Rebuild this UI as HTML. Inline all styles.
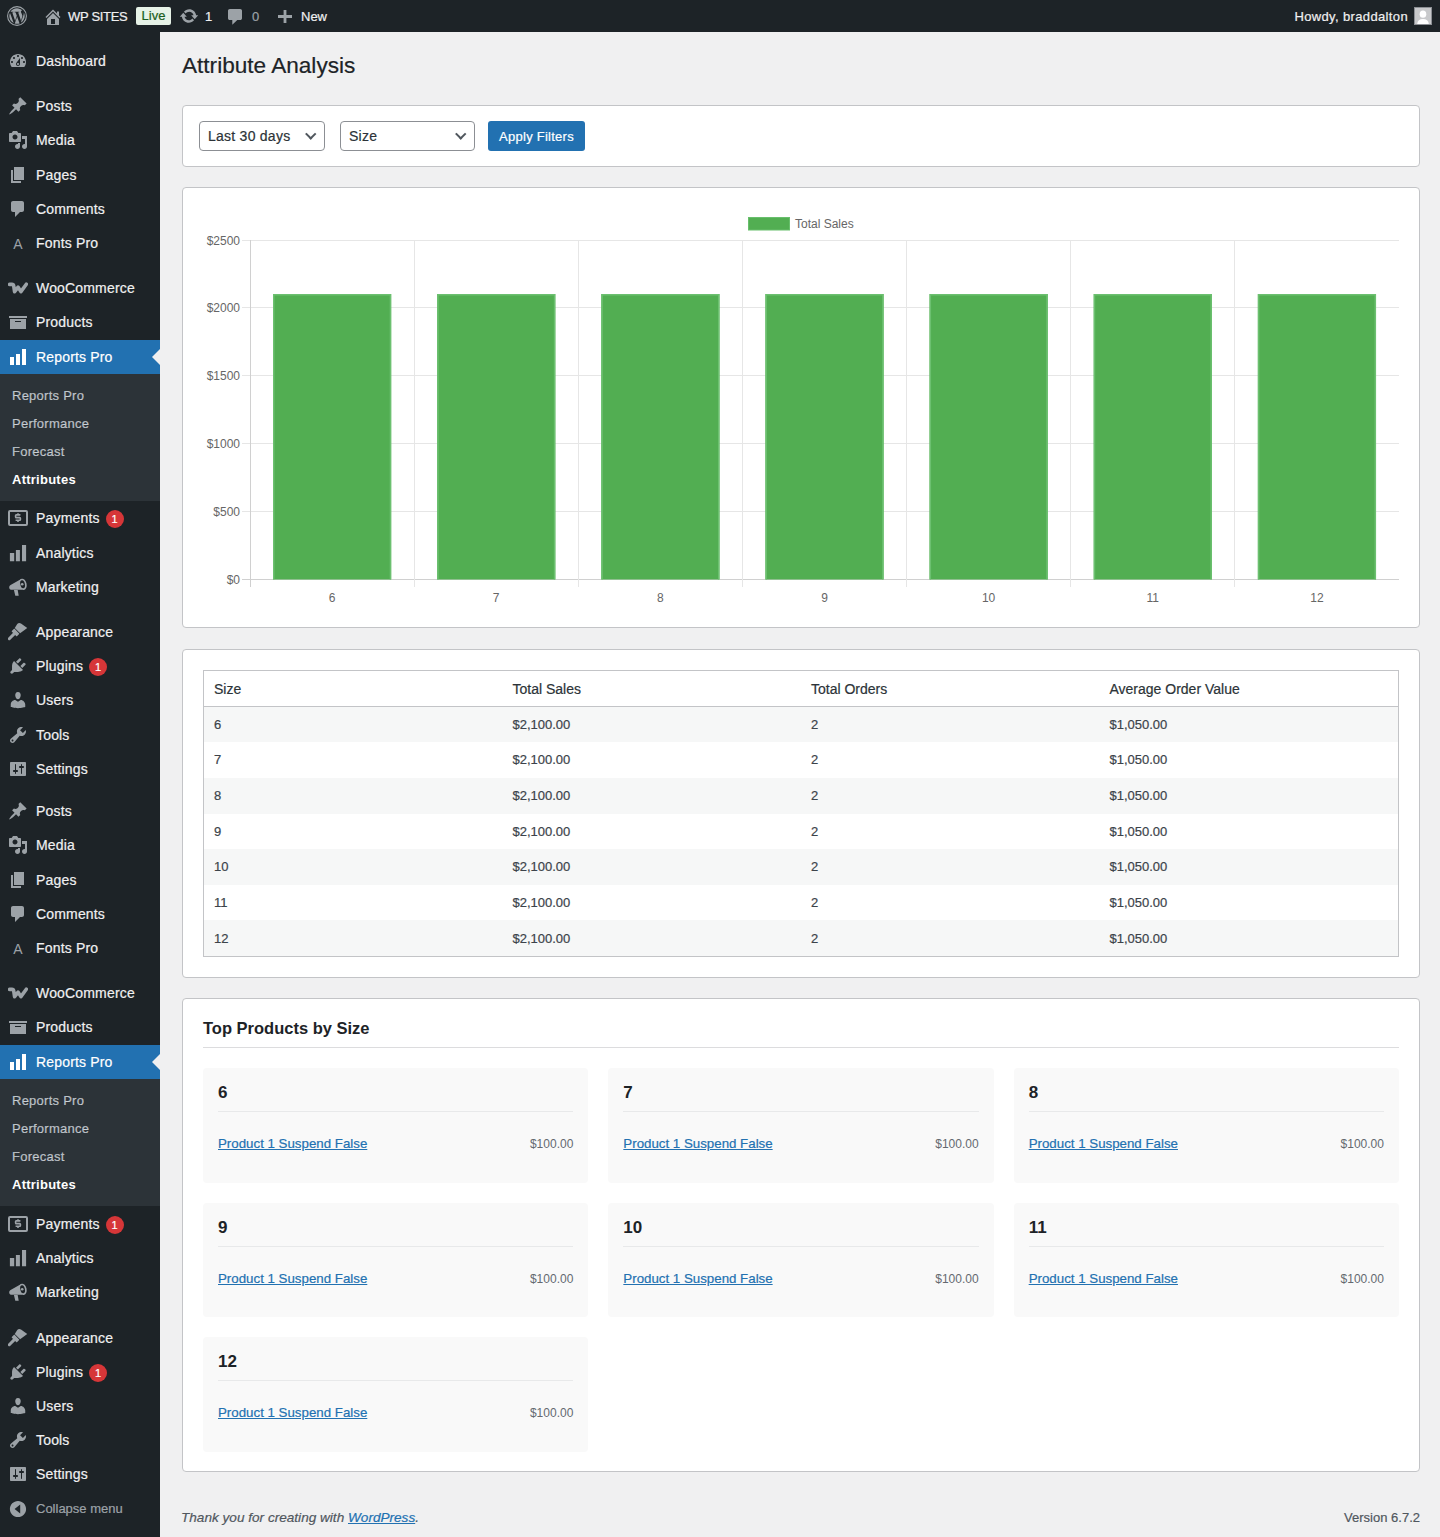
<!DOCTYPE html>
<html><head><meta charset="utf-8"><title>Attribute Analysis</title>
<style>
*{box-sizing:border-box;margin:0;padding:0}
html,body{width:1440px;height:1537px;overflow:hidden}
body{-webkit-text-stroke:.2px currentColor;background:#f0f0f1;font-family:"Liberation Sans",sans-serif;font-size:13px;line-height:1.4;color:#3c434a;position:relative}
ul{list-style:none}
/* admin bar */
#wpadminbar{position:absolute;left:0;top:0;width:1440px;height:32px;background:#1d2327;color:#f0f0f1;font-size:13px;line-height:32px}
#wpadminbar .ab{position:absolute;top:1px;height:32px;white-space:nowrap}
/* admin menu */
#adminmenuback{position:absolute;left:0;top:32px;width:160px;height:1505px;background:#1d2327}
#adminmenu{position:absolute;left:0;top:44px;width:160px}
#adminmenu li.mi{position:relative;height:34.2px;color:#f0f0f1;font-size:14px;line-height:18px}
#adminmenu li.mi .icw{position:absolute;left:8px;top:7px;width:20px;height:20px}
#adminmenu li.mi .ic{display:block}
#adminmenu li.mi .lbl{position:absolute;left:36px;top:8px;white-space:nowrap;letter-spacing:.17px}
#adminmenu li.sep{height:11px}
#adminmenu li.sep2{height:8.3px}
#adminmenu li.cur{background:#2271b1;color:#fff}
#adminmenu li.cur .arrow{position:absolute;right:0;top:50%;margin-top:-8px;width:0;height:0;border:8px solid transparent;border-right-color:#f0f0f1}
#adminmenu li.sub{background:#2c3338;padding:7px 0 8px}
#adminmenu li.sub li{height:28.2px;line-height:18.2px;padding:6px 12px 4px;font-size:13px;color:rgba(240,246,252,.7);letter-spacing:.25px}
#adminmenu li.sub li.on{color:#fff;font-weight:bold}
.badge{display:inline-block;vertical-align:top;margin:1px 0 -1px 6px;min-width:18px;height:18px;border-radius:9px;background:#d63638;color:#fff;font-size:11px;line-height:18px;text-align:center;padding:0 5px}
#adminmenu li.collapse{position:relative;height:34.2px;color:#9ca2a7;font-size:13px;line-height:34px}
#adminmenu li.collapse .icw{position:absolute;left:8px;top:7px}
#adminmenu li.collapse .ic{display:block}
#adminmenu li.collapse .lbl{position:absolute;left:36px;top:0}
/* content */
#content{position:absolute;left:182px;top:32px;width:1238px}
h1.title{font-size:22.6px;font-weight:400;line-height:29.9px;padding:9px 0 4px;margin-top:10px;color:#1d2327}
.box{background:#fff;border:1px solid #c3c4c7;border-radius:4px;position:absolute;left:0;width:1238px}
select.sel{position:absolute;height:30px;border:1px solid #8c8f94;border-radius:3px;background:#fff;font-family:"Liberation Sans",sans-serif;font-size:14px;color:#2c3338;padding:0 8px;line-height:28px}
.btn{position:absolute;height:30px;background:#2271b1;border-radius:3px;color:#fff;font-size:13px;line-height:30px;text-align:center}
/* footer */
#footer{position:absolute;left:180px;top:1504px;width:1240px;height:28px;font-size:13px;color:#50575e}
.sel{position:absolute;height:30px;border:1px solid #8c8f94;border-radius:4px;background:#fff;font-size:14px;color:#2c3338;padding:0 8px;line-height:28px;white-space:nowrap;letter-spacing:.25px}
.sel .chev{position:absolute;right:10px;top:8px;width:7.5px;height:7.5px;border-right:2px solid #50575e;border-bottom:2px solid #50575e;transform:rotate(45deg)}
.btn{position:absolute;height:30px;background:#2271b1;border-radius:3px;color:#fff;font-size:13px;line-height:31px;text-align:center;letter-spacing:.25px}
table.widefat{position:absolute;left:20px;top:20px;width:1196px;border:1px solid #c3c4c7;border-spacing:0;table-layout:fixed}
table.widefat th{text-align:left;font-weight:400;font-size:14px;line-height:19.6px;padding:9px 10px 6px;border-bottom:1px solid #c3c4c7;color:#2c3338;height:35.6px}
table.widefat td{font-size:13px;line-height:19.5px;padding:8px 10px 8px;color:#3c434a;height:35.65px}
table.widefat tr.alt td{background:#f6f7f7}
h2.tp{position:absolute;left:20px;top:20px;width:1196px;font-size:16.5px;font-weight:700;color:#1d2327;line-height:16px;padding-top:1px;border-bottom:1px solid #dcdcde;height:29px}
.card{position:absolute;width:385.33px;height:114.5px;background:#f9f9f9;border-radius:4px;padding:0 15px}
.card h3{position:absolute;left:15px;right:15px;top:0;height:44px;border-bottom:1px solid #e8e9ea;font-size:17px;font-weight:700;color:#1d2327;line-height:20px;padding-top:15px}
.card .prow{position:absolute;left:15px;right:15px;top:66px;height:20px;line-height:20px}
.card a{color:#2271b1;text-decoration:underline;font-size:13.3px}
.card .price{position:absolute;right:0;top:0;font-size:12px;color:#646970}
#footer .thanks{position:absolute;left:1px;top:0;font-style:italic;line-height:28px;font-size:13.6px}
#footer a{color:#2271b1;text-decoration:underline}
#footer .ver{position:absolute;right:0;top:0;line-height:28px}
#wpadminbar .live{position:absolute;left:136px;top:7px;width:35px;height:18px;background:#e6f2e7;color:#1b5e20;border-radius:2px;font-size:13px;line-height:18px;text-align:center}
#wpadminbar .avatar{position:absolute;left:1414px;top:7px;width:18px;height:18px;border:1px solid #8c8f94;background:#c3c4c7}
#wpadminbar .avatar svg{display:block}
h2.tp,.card h3,.card .price,#adminmenu li.sub li.on{-webkit-text-stroke:0}

</style></head>
<body>
<div id="adminmenuback"></div>
<ul id="adminmenu"><li class="mi"><span class="icw"><svg class="ic" viewBox="0 0 20 20" width="20" height="20" fill="#9ca2a7"><path fill-rule="evenodd" d="M3.76 16h12.48c1.1-1.37 1.76-3.11 1.76-5 0-4.42-3.58-8-8-8s-8 3.58-8 8c0 1.89.66 3.63 1.76 5zM10 4c.55 0 1 .45 1 1s-.45 1-1 1-1-.45-1-1 .45-1 1-1zM6 6c.55 0 1 .45 1 1s-.45 1-1 1-1-.45-1-1 .45-1 1-1zm8 0c.55 0 1 .45 1 1s-.45 1-1 1-1-.45-1-1 .45-1 1-1zm-5.37 5.55L12 7v6c0 1.1-.9 2-2 2s-2-.9-2-2c0-.57.24-1.08.63-1.45zM4 10c.55 0 1 .45 1 1s-.45 1-1 1-1-.45-1-1 .45-1 1-1zm12 0c.55 0 1 .45 1 1s-.45 1-1 1-1-.45-1-1 .45-1 1-1zm-5 3c0-.55-.45-1-1-1s-1 .45-1 1 .45 1 1 1 1-.45 1-1z"/></svg></span><span class="lbl">Dashboard</span></li><li class="sep"></li><li class="mi"><span class="icw"><svg class="ic" viewBox="0 0 20 20" width="20" height="20" fill="#9ca2a7"><path d="M10.44 3.02l1.82-1.820 6.36 6.35-1.83 1.82c-1.05-.68-2.48-.57-3.41.36l-.75.75c-.92.93-1.040 2.35-.35 3.41l-1.83 1.82-2.41-2.41-2.8 2.79c-.42.42-3.38 2.71-3.8 2.29s1.86-3.39 2.28-3.81l2.79-2.79L4.1 9.36l1.83-1.82c1.05.69 2.48.57 3.4-.36l.75-.75c.93-.92 1.05-2.35.36-3.41z"/></svg></span><span class="lbl">Posts</span></li><li class="mi"><span class="icw"><svg class="ic" viewBox="0 0 20 20" width="20" height="20" fill="#9ca2a7"><path fill-rule="evenodd" d="M13 11V4c0-.55-.45-1-1-1h-1.67L9 1H5L3.67 3H2c-.55 0-1 .45-1 1v7c0 .55.45 1 1 1h10c.55 0 1-.45 1-1zM7 4.5c1.38 0 2.5 1.12 2.5 2.5S8.38 9.5 7 9.5 4.5 8.38 4.5 7 5.62 4.5 7 4.5zM14 6h5v10.5c0 1.380-1.12 2.5-2.5 2.5S14 17.88 14 16.5s1.12-2.5 2.5-2.5c.17 0 .34.02.5.05V9h-3V6zm-4 8.05V13h2v3.5c0 1.38-1.12 2.5-2.5 2.5S7 17.88 7 16.5 8.12 14 9.5 14c.17 0 .34.02.5.05z"/></svg></span><span class="lbl">Media</span></li><li class="mi"><span class="icw"><svg class="ic" viewBox="0 0 20 20" width="20" height="20" fill="#9ca2a7"><path d="M6 15V2h10v13H6zm-1 1h8v2H3V5h2v11z"/></svg></span><span class="lbl">Pages</span></li><li class="mi"><span class="icw"><svg class="ic" viewBox="0 0 20 20" width="20" height="20" fill="#9ca2a7"><path d="M5 2h9c1.1 0 2 .9 2 2v7c0 1.1-.9 2-2 2h-2l-5 5v-5H5c-1.1 0-2-.9-2-2V4c0-1.1.9-2 2-2z"/></svg></span><span class="lbl">Comments</span></li><li class="mi"><span class="icw"><svg class="ic" viewBox="0 0 20 20" width="20" height="20" fill="#9ca2a7"><text x="10" y="16" text-anchor="middle" font-family="Liberation Sans" font-size="14">A</text></svg></span><span class="lbl">Fonts Pro</span></li><li class="sep"></li><li class="mi"><span class="icw"><svg class="ic" viewBox="0 0 20 20" width="20" height="20" fill="#9ca2a7"><path d="M1.6 6.4H4c.9 0 1.500.5 1.700 1.400L6.600 13.600 10.100 9.100 12.900 13.600 18.300 6.200" fill="none" stroke="#9ca2a7" stroke-width="3.6" stroke-linecap="round" stroke-linejoin="round"/></svg></span><span class="lbl">WooCommerce</span></li><li class="mi"><span class="icw"><svg class="ic" viewBox="0 0 20 20" width="20" height="20" fill="#9ca2a7"><path fill-rule="evenodd" d="M19 4v2H1V4h18zM2 7h16v10H2V7zm11 3V9H7v1h6z"/></svg></span><span class="lbl">Products</span></li><li class="mi cur"><span class="icw"><svg class="ic" viewBox="0 0 20 20" width="20" height="20" fill="#fff"><path d="M18 18V2h-4v16h4zm-6 0V7H8v11h4zm-6 0v-8H2v8h4z"/></svg></span><span class="lbl">Reports Pro</span><span class="arrow"></span></li><li class="sub"><ul><li>Reports Pro</li><li>Performance</li><li>Forecast</li><li class="on">Attributes</li></ul></li><li class="mi"><span class="icw"><svg class="ic" viewBox="0 0 20 20" width="20" height="20" fill="#9ca2a7"><rect x="1" y="3" width="18" height="14" rx="1" fill="none" stroke="#9ca2a7" stroke-width="2"/><path d="M12.400 6.900H8.300Q7.600 6.900 7.600 7.600V8.900Q7.600 9.600 8.300 9.600H11.700Q12.400 9.600 12.400 10.300V11.600Q12.400 12.300 11.700 12.300H7.600M10 5.200V6.900M10 12.300V14" fill="none" stroke="#9ca2a7" stroke-width="1.6"/></svg></span><span class="lbl">Payments<span class="badge">1</span></span></li><li class="mi"><span class="icw"><svg class="ic" viewBox="0 0 20 20" width="20" height="20" fill="#9ca2a7"><path d="M1.9 10h4.3v8.2H1.9zM7.9 7.1h4v11.1h-4zM14 2h4.1v16.2H14z"/></svg></span><span class="lbl">Analytics</span></li><li class="mi"><span class="icw"><svg class="ic" viewBox="0 0 20 20" width="20" height="20" fill="#9ca2a7"><path d="M2.600 8.100L13.200 1.900 14.600 12.700H3C1.900 12.600 1.200 11.800 1.200 10.600 1.200 9.500 1.700 8.600 2.600 8.100zM5.800 12.400L7.300 18.800H10.700L9.600 12.400z"/><ellipse cx="14.800" cy="7.300" rx="3.800" ry="5.700" transform="rotate(-12 14.800 7.300)"/><ellipse cx="14.600" cy="7.300" rx="2.300" ry="4.100" transform="rotate(-12 14.600 7.300)" fill="#1d2327"/><circle cx="14.200" cy="7.300" r="1.300"/></svg></span><span class="lbl">Marketing</span></li><li class="sep"></li><li class="mi"><span class="icw"><svg class="ic" viewBox="0 0 20 20" width="20" height="20" fill="#9ca2a7"><g transform="translate(1.300 16.700) rotate(-45)"><path d="M0 -1.500H7.500V1.500H0A1.500 1.500 0 0 1 0 -1.500z"/><rect x="6.800" y="-3.600" width="3.900" height="7.200" rx=".4"/><path d="M11.500 -3.800L16 -4.800Q18.500 -4.800 19 -2.500L20.200 5.200 11.500 3.800z"/></g></svg></span><span class="lbl">Appearance</span></li><li class="mi"><span class="icw"><svg class="ic" viewBox="0 0 20 20" width="20" height="20" fill="#9ca2a7"><path d="M13.11 4.36L9.87 7.6 8 5.73l3.24-3.24c.35-.34 1.05-.2 1.56.32.52.51.66 1.21.31 1.55zm-8 1.77l.91-1.12 9.01 9.01-1.19.84c-.71.71-2.63 1.16-3.82 1.16H6.14L4.9 17.26c-.59.59-1.54.59-2.12 0-.59-.58-.59-1.53 0-2.12l1.24-1.240v-3.88c0-1.13.4-3.19 1.09-3.89zm7.26 3.97l3.24-3.24c.34-.35 1.04-.21 1.55.31.52.51.66 1.21.31 1.55l-3.24 3.25z"/></svg></span><span class="lbl">Plugins<span class="badge">1</span></span></li><li class="mi"><span class="icw"><svg class="ic" viewBox="0 0 20 20" width="20" height="20" fill="#9ca2a7"><path d="M10 9.25c-2.27 0-2.73-3.44-2.73-3.44C7 4.02 7.82 2 9.97 2c2.16 0 2.98 2.02 2.71 3.81 0 0-.41 3.44-2.68 3.44zm0 2.57L12.72 10c2.39 0 4.52 2.33 4.52 4.53v2.49s-3.65 1.13-7.240 1.130c-3.65 0-7.24-1.13-7.24-1.13v-2.49c0-2.25 1.94-4.48 4.47-4.48z"/></svg></span><span class="lbl">Users</span></li><li class="mi"><span class="icw"><svg class="ic" viewBox="0 0 20 20" width="20" height="20" fill="#9ca2a7"><path fill-rule="evenodd" d="M16.68 9.77c-1.34 1.34-3.3 1.67-4.95.99l-5.41 6.52c-.99.99-2.59.99-3.58 0s-.99-2.59 0-3.57l6.52-5.42c-.68-1.650-.35-3.61.99-4.95 1.28-1.28 3.12-1.62 4.72-1.06l-2.89 2.89 2.82 2.82 2.86-2.87c.53 1.58.18 3.39-1.08 4.650zM3.81 16.21c.4.39 1.04.39 1.43 0 .4-.4.4-1.04 0-1.43-.39-.4-1.03-.4-1.43 0-.39.39-.39 1.03 0 1.43z"/></svg></span><span class="lbl">Tools</span></li><li class="mi"><span class="icw"><svg class="ic" viewBox="0 0 20 20" width="20" height="20" fill="#9ca2a7"><path fill-rule="evenodd" d="M18 16V4c0-.55-.45-1-1-1H3c-.55 0-1 .45-1 1v12c0 .55.45 1 1 1h14c.55 0 1-.45 1-1zM8 11h1c.55 0 1 .45 1 1s-.45 1-1 1H8v1.5c0 .28-.22.5-.5.5s-.5-.22-.5-.5V13H6c-.55 0-1-.45-1-1s.45-1 1-1h1V5.5c0-.28.22-.5.5-.5s.5.22.5.5V11zm5-2h-1c-.55 0-1-.45-1-1s.45-1 1-1h1V5.5c0-.28.22-.5.5-.5s.5.22.5.5V7h1c.55 0 1 .45 1 1s-.45 1-1 1h-1v5.5c0 .28-.22.5-.5.5s-.5-.22-.5-.5V9z"/></svg></span><span class="lbl">Settings</span></li><li class="sep2"></li><li class="mi"><span class="icw"><svg class="ic" viewBox="0 0 20 20" width="20" height="20" fill="#9ca2a7"><path d="M10.44 3.02l1.82-1.820 6.36 6.35-1.83 1.82c-1.05-.68-2.48-.57-3.41.36l-.75.75c-.92.93-1.040 2.35-.35 3.41l-1.83 1.82-2.41-2.41-2.8 2.79c-.42.42-3.38 2.71-3.8 2.29s1.86-3.39 2.28-3.81l2.79-2.79L4.1 9.36l1.83-1.82c1.05.69 2.48.57 3.4-.36l.75-.75c.93-.92 1.05-2.35.36-3.41z"/></svg></span><span class="lbl">Posts</span></li><li class="mi"><span class="icw"><svg class="ic" viewBox="0 0 20 20" width="20" height="20" fill="#9ca2a7"><path fill-rule="evenodd" d="M13 11V4c0-.55-.45-1-1-1h-1.67L9 1H5L3.67 3H2c-.55 0-1 .45-1 1v7c0 .55.45 1 1 1h10c.55 0 1-.45 1-1zM7 4.5c1.38 0 2.5 1.12 2.5 2.5S8.38 9.5 7 9.5 4.5 8.38 4.5 7 5.62 4.5 7 4.5zM14 6h5v10.5c0 1.380-1.12 2.5-2.5 2.5S14 17.88 14 16.5s1.12-2.5 2.5-2.5c.17 0 .34.02.5.05V9h-3V6zm-4 8.05V13h2v3.5c0 1.38-1.12 2.5-2.5 2.5S7 17.88 7 16.5 8.12 14 9.5 14c.17 0 .34.02.5.05z"/></svg></span><span class="lbl">Media</span></li><li class="mi"><span class="icw"><svg class="ic" viewBox="0 0 20 20" width="20" height="20" fill="#9ca2a7"><path d="M6 15V2h10v13H6zm-1 1h8v2H3V5h2v11z"/></svg></span><span class="lbl">Pages</span></li><li class="mi"><span class="icw"><svg class="ic" viewBox="0 0 20 20" width="20" height="20" fill="#9ca2a7"><path d="M5 2h9c1.1 0 2 .9 2 2v7c0 1.1-.9 2-2 2h-2l-5 5v-5H5c-1.1 0-2-.9-2-2V4c0-1.1.9-2 2-2z"/></svg></span><span class="lbl">Comments</span></li><li class="mi"><span class="icw"><svg class="ic" viewBox="0 0 20 20" width="20" height="20" fill="#9ca2a7"><text x="10" y="16" text-anchor="middle" font-family="Liberation Sans" font-size="14">A</text></svg></span><span class="lbl">Fonts Pro</span></li><li class="sep"></li><li class="mi"><span class="icw"><svg class="ic" viewBox="0 0 20 20" width="20" height="20" fill="#9ca2a7"><path d="M1.6 6.4H4c.9 0 1.500.5 1.700 1.400L6.600 13.600 10.100 9.100 12.900 13.600 18.300 6.200" fill="none" stroke="#9ca2a7" stroke-width="3.6" stroke-linecap="round" stroke-linejoin="round"/></svg></span><span class="lbl">WooCommerce</span></li><li class="mi"><span class="icw"><svg class="ic" viewBox="0 0 20 20" width="20" height="20" fill="#9ca2a7"><path fill-rule="evenodd" d="M19 4v2H1V4h18zM2 7h16v10H2V7zm11 3V9H7v1h6z"/></svg></span><span class="lbl">Products</span></li><li class="mi cur"><span class="icw"><svg class="ic" viewBox="0 0 20 20" width="20" height="20" fill="#fff"><path d="M18 18V2h-4v16h4zm-6 0V7H8v11h4zm-6 0v-8H2v8h4z"/></svg></span><span class="lbl">Reports Pro</span><span class="arrow"></span></li><li class="sub" style="margin-bottom:.6px"><ul><li>Reports Pro</li><li>Performance</li><li>Forecast</li><li class="on">Attributes</li></ul></li><li class="mi"><span class="icw"><svg class="ic" viewBox="0 0 20 20" width="20" height="20" fill="#9ca2a7"><rect x="1" y="3" width="18" height="14" rx="1" fill="none" stroke="#9ca2a7" stroke-width="2"/><path d="M12.400 6.900H8.300Q7.600 6.900 7.600 7.600V8.900Q7.600 9.600 8.300 9.600H11.700Q12.400 9.600 12.400 10.300V11.600Q12.400 12.300 11.700 12.300H7.600M10 5.200V6.900M10 12.300V14" fill="none" stroke="#9ca2a7" stroke-width="1.6"/></svg></span><span class="lbl">Payments<span class="badge">1</span></span></li><li class="mi"><span class="icw"><svg class="ic" viewBox="0 0 20 20" width="20" height="20" fill="#9ca2a7"><path d="M1.9 10h4.3v8.2H1.9zM7.9 7.1h4v11.1h-4zM14 2h4.1v16.2H14z"/></svg></span><span class="lbl">Analytics</span></li><li class="mi"><span class="icw"><svg class="ic" viewBox="0 0 20 20" width="20" height="20" fill="#9ca2a7"><path d="M2.600 8.100L13.200 1.900 14.600 12.700H3C1.900 12.600 1.200 11.800 1.200 10.600 1.200 9.500 1.700 8.600 2.600 8.100zM5.800 12.400L7.300 18.800H10.700L9.600 12.400z"/><ellipse cx="14.800" cy="7.300" rx="3.800" ry="5.700" transform="rotate(-12 14.800 7.300)"/><ellipse cx="14.600" cy="7.300" rx="2.300" ry="4.100" transform="rotate(-12 14.600 7.300)" fill="#1d2327"/><circle cx="14.200" cy="7.300" r="1.300"/></svg></span><span class="lbl">Marketing</span></li><li class="sep"></li><li class="mi"><span class="icw"><svg class="ic" viewBox="0 0 20 20" width="20" height="20" fill="#9ca2a7"><g transform="translate(1.300 16.700) rotate(-45)"><path d="M0 -1.500H7.500V1.500H0A1.500 1.500 0 0 1 0 -1.500z"/><rect x="6.800" y="-3.600" width="3.900" height="7.200" rx=".4"/><path d="M11.500 -3.800L16 -4.800Q18.500 -4.800 19 -2.500L20.200 5.200 11.500 3.800z"/></g></svg></span><span class="lbl">Appearance</span></li><li class="mi"><span class="icw"><svg class="ic" viewBox="0 0 20 20" width="20" height="20" fill="#9ca2a7"><path d="M13.11 4.36L9.87 7.6 8 5.73l3.24-3.24c.35-.34 1.05-.2 1.56.32.52.51.66 1.21.31 1.55zm-8 1.77l.91-1.12 9.01 9.01-1.19.84c-.71.71-2.63 1.16-3.82 1.16H6.14L4.9 17.26c-.59.59-1.54.59-2.12 0-.59-.58-.59-1.53 0-2.12l1.24-1.240v-3.88c0-1.13.4-3.19 1.09-3.89zm7.26 3.97l3.24-3.24c.34-.35 1.04-.21 1.55.31.52.51.66 1.21.31 1.55l-3.24 3.25z"/></svg></span><span class="lbl">Plugins<span class="badge">1</span></span></li><li class="mi"><span class="icw"><svg class="ic" viewBox="0 0 20 20" width="20" height="20" fill="#9ca2a7"><path d="M10 9.25c-2.27 0-2.73-3.44-2.73-3.44C7 4.02 7.82 2 9.97 2c2.16 0 2.98 2.02 2.71 3.81 0 0-.41 3.44-2.68 3.44zm0 2.57L12.72 10c2.39 0 4.52 2.33 4.52 4.53v2.49s-3.65 1.13-7.240 1.130c-3.65 0-7.24-1.13-7.24-1.13v-2.49c0-2.25 1.94-4.48 4.47-4.48z"/></svg></span><span class="lbl">Users</span></li><li class="mi"><span class="icw"><svg class="ic" viewBox="0 0 20 20" width="20" height="20" fill="#9ca2a7"><path fill-rule="evenodd" d="M16.68 9.77c-1.34 1.34-3.3 1.67-4.95.99l-5.41 6.52c-.99.99-2.59.99-3.58 0s-.99-2.59 0-3.57l6.52-5.42c-.68-1.650-.35-3.61.99-4.95 1.28-1.28 3.12-1.62 4.72-1.06l-2.89 2.89 2.82 2.82 2.86-2.87c.53 1.58.18 3.39-1.08 4.650zM3.81 16.21c.4.39 1.04.39 1.43 0 .4-.4.4-1.04 0-1.43-.39-.4-1.03-.4-1.43 0-.39.39-.39 1.03 0 1.43z"/></svg></span><span class="lbl">Tools</span></li><li class="mi"><span class="icw"><svg class="ic" viewBox="0 0 20 20" width="20" height="20" fill="#9ca2a7"><path fill-rule="evenodd" d="M18 16V4c0-.55-.45-1-1-1H3c-.55 0-1 .45-1 1v12c0 .55.45 1 1 1h14c.55 0 1-.45 1-1zM8 11h1c.55 0 1 .45 1 1s-.45 1-1 1H8v1.5c0 .28-.22.5-.5.5s-.5-.22-.5-.5V13H6c-.55 0-1-.45-1-1s.45-1 1-1h1V5.5c0-.28.22-.5.5-.5s.5.22.5.5V11zm5-2h-1c-.55 0-1-.45-1-1s.45-1 1-1h1V5.5c0-.28.22-.5.5-.5s.5.22.5.5V7h1c.55 0 1 .45 1 1s-.45 1-1 1h-1v5.5c0 .28-.22.5-.5.5s-.5-.22-.5-.5V9z"/></svg></span><span class="lbl">Settings</span></li><li class="collapse"><span class="icw"><svg class="ic" viewBox="0 0 20 20" width="20" height="20" fill="#9ca2a7"><path fill-rule="evenodd" d="M10 1.9c4.5 0 8.1 3.6 8.1 8.1s-3.6 8.1-8.1 8.1S1.9 14.5 1.9 10 5.5 1.9 10 1.9zM12.2 5.6L6.6 10l5.6 4.4z"/></svg></span><span class="lbl">Collapse menu</span></li></ul>

<div id="wpadminbar">
  <svg class="ab" style="left:7px;top:6px;height:20px" width="20" height="20" viewBox="0 0 20 20"><circle cx="10" cy="10" r="9.4" fill="none" stroke="#9ca2a7" stroke-width="1.1"/><path fill="#9ca2a7" d="M2.3 10c0 3 1.8 5.7 4.4 7L3 6.9C2.5 7.8 2.3 8.9 2.3 10zm12.900-.4c0-.9-.4-1.600-.6-2.100-.4-.6-.7-1.100-.7-1.700 0-.7.5-1.300 1.200-1.300h.1C13.800 3.300 12.000 2.300 10 2.300c-2.700 0-5.100 1.400-6.500 3.500h.5c.8 0 2.100-.1 2.100-.1.4 0 .5.6.1.6 0 0-.4.1-.9.1l2.800 8.400 1.700-5.100-1.200-3.300c-.4 0-.8-.1-.8-.1-.4 0-.4-.6 0-.6 0 0 1.300.1 2.100.1s2.100-.1 2.100-.1c.4 0 .5.6.1.6 0 0-.4.1-.9.1l2.800 8.300.8-2.600c.3-1.100.6-1.900.6-2.600zm-5.100 1.100l-2.300 6.800c.7.2 1.400.3 2.200.3.9 0 1.800-.2 2.600-.4l-.1-.1-2.400-6.600zm6.600-4.400c0 .2.1.5.1.8 0 .8-.1 1.600-.6 2.800l-2.300 6.700c2.300-1.300 3.800-3.800 3.800-6.600 0-1.300-.3-2.600-1-3.700z"/></svg>
  <svg class="ab" style="left:42.5px;top:6.5px;height:20px" width="20" height="20" viewBox="0 0 20 20"><path fill="#9ca2a7" fill-rule="evenodd" d="M16 8.5l1.53 1.53-1.06 1.06L10 4.620l-6.470 6.470-1.060-1.060L10 2.500l4 4v-2h2v4zM10 6.040l6 5.990V18H4v-5.970zM12 17v-5H8v5h4z"/></svg>
  <span class="ab" style="left:68px;color:#f0f0f1;letter-spacing:-.3px">WP SITES</span>
  <span class="live">Live</span>
  <svg class="ab" style="left:178.5px;top:5.8px;height:20px" width="20" height="20" viewBox="0 0 20 20"><path fill="#9ca2a7" d="M10.2 3.28c3.53 0 6.43 2.61 6.92 6h2.08l-3.5 4-3.5-4h2.32c-.45-1.97-2.21-3.45-4.32-3.45-1.45 0-2.73.71-3.540 1.780L4.950 5.660C6.230 4.200 8.110 3.280 10.200 3.280zm-.4 13.44c-3.52 0-6.43-2.61-6.92-6H.8l3.5-4c1.17 1.33 2.33 2.67 3.5 4H5.480c.45 1.970 2.210 3.450 4.320 3.450 1.450 0 2.730-.710 3.540-1.780l1.710 1.950c-1.280 1.460-3.150 2.380-5.250 2.380z"/></svg>
  <span class="ab" style="left:205px;color:#f0f0f1">1</span>
  <svg class="ab" style="left:228px;top:9px;height:16px" width="14" height="16" viewBox="0 0 14 16"><path fill="#9ca2a7" d="M1.8 0h10.400c1 0 1.800.8 1.800 1.800v7.400c0 1-.8 1.800-1.800 1.800H9.300L4.300 15.800V11H1.800C.8 11 0 10.200 0 9.200V1.800C0 .8.8 0 1.800 0z"/></svg>
  <span class="ab" style="left:252px;color:#9ca2a7">0</span>
  <svg class="ab" style="left:278px;top:10px;height:13px" width="14" height="13" viewBox="0 0 14 13"><path fill="#9ca2a7" d="M5.600 0h2.800v5.100H14v2.800H8.400V13H5.600V7.900H0V5.100h5.600z"/></svg>
  <span class="ab" style="left:301px;color:#f0f0f1">New</span>
  <span class="ab" style="right:32px;color:#f0f0f1;letter-spacing:.36px">Howdy, braddalton</span>
  <span class="avatar"><svg width="16" height="16" viewBox="0 0 16 16"><rect width="16" height="16" fill="#c8c9cb"/><ellipse cx="8" cy="6.2" rx="3.3" ry="3.6" fill="#fff"/><path d="M2.200 16c.3-3.200 2.300-5 5.800-5s5.500 1.800 5.800 5z" fill="#fff"/></svg></span>
</div>
<div id="content">
<h1 class="title">Attribute Analysis</h1>
<div class="box" style="top:73px;height:62px">
  <div class="sel" style="left:16px;top:15px;width:126px">Last 30 days<span class="chev"></span></div>
  <div class="sel" style="left:157px;top:15px;width:135px">Size<span class="chev"></span></div>
  <div class="btn" style="left:305px;top:15px;width:97px">Apply Filters</div>
</div>
<div class="box" style="top:155px;height:441px"></div>
<div class="box" style="top:617px;height:329px"><table class="widefat"><thead><tr><th>Size</th><th>Total Sales</th><th>Total Orders</th><th>Average Order Value</th></tr></thead><tbody><tr class="alt"><td>6</td><td>$2,100.00</td><td>2</td><td>$1,050.00</td></tr><tr><td>7</td><td>$2,100.00</td><td>2</td><td>$1,050.00</td></tr><tr class="alt"><td>8</td><td>$2,100.00</td><td>2</td><td>$1,050.00</td></tr><tr><td>9</td><td>$2,100.00</td><td>2</td><td>$1,050.00</td></tr><tr class="alt"><td>10</td><td>$2,100.00</td><td>2</td><td>$1,050.00</td></tr><tr><td>11</td><td>$2,100.00</td><td>2</td><td>$1,050.00</td></tr><tr class="alt"><td>12</td><td>$2,100.00</td><td>2</td><td>$1,050.00</td></tr></tbody></table></div>
<div class="box" style="top:966px;height:474px">
  <h2 class="tp">Top Products by Size</h2>
  <div class="card" style="left:20.0px;top:69.0px"><h3>6</h3><div class="prow"><a>Product 1 Suspend False</a><span class="price">$100.00</span></div></div><div class="card" style="left:425.333px;top:69.0px"><h3>7</h3><div class="prow"><a>Product 1 Suspend False</a><span class="price">$100.00</span></div></div><div class="card" style="left:830.666px;top:69.0px"><h3>8</h3><div class="prow"><a>Product 1 Suspend False</a><span class="price">$100.00</span></div></div><div class="card" style="left:20.0px;top:203.5px"><h3>9</h3><div class="prow"><a>Product 1 Suspend False</a><span class="price">$100.00</span></div></div><div class="card" style="left:425.333px;top:203.5px"><h3>10</h3><div class="prow"><a>Product 1 Suspend False</a><span class="price">$100.00</span></div></div><div class="card" style="left:830.666px;top:203.5px"><h3>11</h3><div class="prow"><a>Product 1 Suspend False</a><span class="price">$100.00</span></div></div><div class="card" style="left:20.0px;top:338.0px"><h3>12</h3><div class="prow"><a>Product 1 Suspend False</a><span class="price">$100.00</span></div></div>
</div>
</div>
<svg id="chart" width="1440" height="1537" viewBox="0 0 1440 1537" style="position:absolute;left:0;top:0;pointer-events:none">
<rect x="748.5" y="217.5" width="41" height="12.5" fill="#52ae52" stroke="#68bf6c" stroke-width="1"/>
<text x="795" y="228" font-family="Liberation Sans" font-size="12" fill="#666">Total Sales</text>
<line x1="242" y1="240.5" x2="1399" y2="240.5" stroke="#e6e6e6" stroke-width="1"/>
<text x="240" y="244.5" text-anchor="end" font-family="Liberation Sans" font-size="12" fill="#666">$2500</text>
<line x1="242" y1="307.5" x2="1399" y2="307.5" stroke="#e6e6e6" stroke-width="1"/>
<text x="240" y="311.5" text-anchor="end" font-family="Liberation Sans" font-size="12" fill="#666">$2000</text>
<line x1="242" y1="375.5" x2="1399" y2="375.5" stroke="#e6e6e6" stroke-width="1"/>
<text x="240" y="379.5" text-anchor="end" font-family="Liberation Sans" font-size="12" fill="#666">$1500</text>
<line x1="242" y1="443.5" x2="1399" y2="443.5" stroke="#e6e6e6" stroke-width="1"/>
<text x="240" y="447.5" text-anchor="end" font-family="Liberation Sans" font-size="12" fill="#666">$1000</text>
<line x1="242" y1="511.5" x2="1399" y2="511.5" stroke="#e6e6e6" stroke-width="1"/>
<text x="240" y="515.5" text-anchor="end" font-family="Liberation Sans" font-size="12" fill="#666">$500</text>
<line x1="242" y1="579.5" x2="1399" y2="579.5" stroke="#d0d0d0" stroke-width="1"/>
<text x="240" y="583.5" text-anchor="end" font-family="Liberation Sans" font-size="12" fill="#666">$0</text>
<line x1="250.5" y1="240" x2="250.5" y2="587" stroke="#d0d0d0" stroke-width="1"/>
<line x1="414.5" y1="240" x2="414.5" y2="587" stroke="#e6e6e6" stroke-width="1"/>
<line x1="578.5" y1="240" x2="578.5" y2="587" stroke="#e6e6e6" stroke-width="1"/>
<line x1="742.5" y1="240" x2="742.5" y2="587" stroke="#e6e6e6" stroke-width="1"/>
<line x1="906.5" y1="240" x2="906.5" y2="587" stroke="#e6e6e6" stroke-width="1"/>
<line x1="1070.5" y1="240" x2="1070.5" y2="587" stroke="#e6e6e6" stroke-width="1"/>
<line x1="1234.5" y1="240" x2="1234.5" y2="587" stroke="#e6e6e6" stroke-width="1"/>
<rect x="273.00" y="294" width="118.2" height="285.5" fill="#52ae52"/>
<path d="M273.75 579.5V294.75H390.45V579.5" fill="none" stroke="#6cc070" stroke-width="1.5"/>
<text x="332.07" y="602" text-anchor="middle" font-family="Liberation Sans" font-size="12" fill="#666">6</text>
<rect x="437.14" y="294" width="118.2" height="285.5" fill="#52ae52"/>
<path d="M437.89 579.5V294.75H554.59V579.5" fill="none" stroke="#6cc070" stroke-width="1.5"/>
<text x="496.21" y="602" text-anchor="middle" font-family="Liberation Sans" font-size="12" fill="#666">7</text>
<rect x="601.28" y="294" width="118.2" height="285.5" fill="#52ae52"/>
<path d="M602.03 579.5V294.75H718.73V579.5" fill="none" stroke="#6cc070" stroke-width="1.5"/>
<text x="660.35" y="602" text-anchor="middle" font-family="Liberation Sans" font-size="12" fill="#666">8</text>
<rect x="765.42" y="294" width="118.2" height="285.5" fill="#52ae52"/>
<path d="M766.17 579.5V294.75H882.87V579.5" fill="none" stroke="#6cc070" stroke-width="1.5"/>
<text x="824.49" y="602" text-anchor="middle" font-family="Liberation Sans" font-size="12" fill="#666">9</text>
<rect x="929.56" y="294" width="118.2" height="285.5" fill="#52ae52"/>
<path d="M930.31 579.5V294.75H1047.01V579.5" fill="none" stroke="#6cc070" stroke-width="1.5"/>
<text x="988.63" y="602" text-anchor="middle" font-family="Liberation Sans" font-size="12" fill="#666">10</text>
<rect x="1093.70" y="294" width="118.2" height="285.5" fill="#52ae52"/>
<path d="M1094.45 579.5V294.75H1211.15V579.5" fill="none" stroke="#6cc070" stroke-width="1.5"/>
<text x="1152.77" y="602" text-anchor="middle" font-family="Liberation Sans" font-size="12" fill="#666">11</text>
<rect x="1257.84" y="294" width="118.2" height="285.5" fill="#52ae52"/>
<path d="M1258.59 579.5V294.75H1375.29V579.5" fill="none" stroke="#6cc070" stroke-width="1.5"/>
<text x="1316.91" y="602" text-anchor="middle" font-family="Liberation Sans" font-size="12" fill="#666">12</text>
</svg>
<div id="footer"><span class="thanks">Thank you for creating with <a>WordPress</a>.</span><span class="ver">Version 6.7.2</span></div>

</body></html>
